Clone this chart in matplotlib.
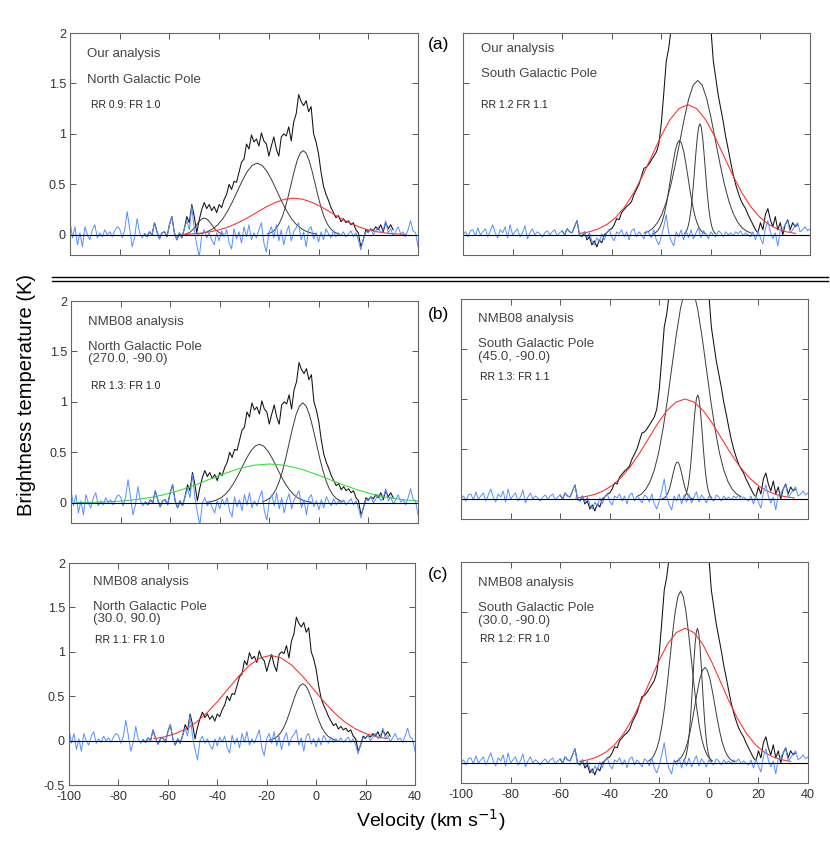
import matplotlib
matplotlib.use('Agg')
import matplotlib.pyplot as plt
from matplotlib.lines import Line2D
from matplotlib.ticker import MultipleLocator, FuncFormatter

plt.rcParams['font.family'] = ['Liberation Sans', 'DejaVu Sans']

# ---------------- observed spectra (1 km/s channels) ----------------
vel_all = list(range(-100, 41))     # channels for the residuals
vel_ngp = list(range(-70, 31))      # channels where the NGP line is drawn
vel_sgp = list(range(-60, 36))      # channels where the SGP line is drawn

ngp_data = [0.01, -0.02, 0.03, 0.00, 0.12, 0.03, -0.04, 0.02, 0.03, -0.02,
            0.10, 0.18, 0.02, -0.05, 0.02, -0.03, 0.06, 0.18, 0.12, 0.30,
            0.18, 0.02, 0.15, 0.25, 0.32, 0.26, 0.30, 0.24, 0.28, 0.22,
            0.30, 0.27, 0.35, 0.40, 0.50, 0.45, 0.53, 0.52, 0.62, 0.72,
            0.75, 0.90, 0.85, 0.99, 0.92, 0.95, 0.88, 1.01, 0.93, 0.90,
            0.78, 0.88, 0.97, 0.85, 0.78, 0.97, 1.00, 0.98, 1.07, 0.93,
            1.12, 1.20, 1.39, 1.32, 1.28, 1.33, 1.22, 1.27, 1.00, 0.92,
            0.80, 0.62, 0.48, 0.40, 0.34, 0.27, 0.22, 0.17, 0.19, 0.13,
            0.16, 0.12, 0.14, 0.10, 0.12, 0.05, 0.02, -0.12, -0.05, 0.05,
            0.03, 0.06, 0.04, 0.08, 0.05, 0.10, 0.03, 0.12, 0.06, 0.10,
            0.05]

ngp_resid = [0.13, -0.03, 0.08, -0.10, 0.02, -0.12, 0.08, 0.00, -0.05, 0.05,
             0.10, -0.03, 0.02, -0.02, 0.05, 0.00, 0.03, -0.02, 0.04, 0.08,
             0.06, -0.03, 0.05, 0.23, 0.06, -0.12, -0.02, 0.16, 0.02, -0.03,
             0.01, -0.02, 0.03, 0.00, 0.12, 0.03, -0.04, 0.02, 0.03, -0.02,
             0.10, 0.18, 0.02, -0.05, 0.02, -0.03, 0.06, 0.14, 0.05, 0.28,
             0.05, -0.10, -0.22, 0.00, 0.05, -0.03, 0.02, -0.05, -0.10, 0.02,
             -0.06, 0.04, -0.02, 0.05, -0.08, -0.14, 0.06, -0.04, 0.03, -0.08,
             0.08, -0.02, 0.10, -0.05, 0.02, -0.03, 0.05, 0.12, -0.08, -0.17,
             0.02, 0.08, -0.03, 0.10, -0.06, 0.05, -0.10, 0.02, 0.09, -0.06,
             0.03, 0.07, 0.12, -0.05, 0.03, -0.12, 0.05, 0.08, -0.04, 0.02,
             -0.07, 0.03, -0.05, 0.06, 0.01, -0.03, 0.04, -0.02, 0.02, -0.01,
             0.03, -0.02, 0.01, 0.04, -0.02, 0.02, -0.05, -0.15, -0.04, 0.03,
             0.02, 0.06, 0.00, 0.04, 0.08, 0.02, 0.05, 0.14, 0.02, 0.06,
             -0.01, 0.03, 0.08, 0.01, 0.03, -0.02, 0.05, 0.14, 0.04, 0.02,
             -0.12]

sgp_data = [0.04, 0.00, 0.06, 0.03, 0.02, 0.08, 0.14, 0.00, -0.02, 0.03,
            -0.05, -0.02, -0.10, -0.06, -0.12, -0.05, -0.08, 0.00, 0.02, 0.05,
            0.06, 0.10, 0.16, 0.15, 0.22, 0.25, 0.28, 0.30, 0.33, 0.40,
            0.45, 0.50, 0.58, 0.66, 0.67, 0.70, 0.74, 0.78, 0.82, 0.90,
            1.10, 1.40, 1.72, 1.85, 2.05, 2.60, 2.90, 3.10, 3.30, 3.40,
            3.50, 3.60, 3.70, 3.80, 3.85, 3.80, 3.60, 3.20, 2.80, 2.30,
            2.05, 1.72, 1.55, 1.38, 1.25, 1.12, 0.97, 0.85, 0.72, 0.60,
            0.50, 0.42, 0.35, 0.30, 0.26, 0.20, 0.15, 0.10, 0.05, 0.02,
            0.12, 0.05, 0.20, 0.26, 0.15, 0.08, 0.18, 0.05, 0.12, 0.00,
            0.10, 0.15, 0.05, 0.12, 0.08, 0.10]

sgp_resid = [0.00, 0.03, -0.02, 0.04, 0.05, -0.01, 0.07, 0.00, 0.03, 0.06,
             -0.02, 0.04, 0.10, 0.02, -0.03, 0.05, 0.02, 0.08, -0.03, 0.10,
             0.00, 0.03, 0.06, -0.02, 0.02, 0.09, -0.04, 0.02, 0.06, 0.00,
             0.03, 0.01, -0.02, 0.02, 0.04, 0.00, 0.03, 0.05, -0.01, 0.02,
             0.04, 0.00, 0.06, 0.03, 0.02, 0.08, 0.14, 0.00, -0.02, 0.03,
             -0.03, 0.02, -0.06, -0.10, -0.03, -0.07, 0.01, -0.05, 0.02, 0.05,
             -0.02, -0.06, 0.03, 0.01, 0.05, -0.02, 0.03, -0.05, 0.04, 0.06,
             -0.02, 0.03, 0.00, -0.04, 0.04, 0.02, -0.03, 0.05, -0.05, -0.10,
             -0.02, 0.08, 0.20, 0.02, -0.06, -0.11, 0.03, -0.02, 0.05, -0.05,
             0.04, -0.03, 0.05, -0.04, 0.02, 0.07, -0.03, 0.04, 0.01, -0.04,
             0.03, 0.00, -0.02, 0.04, 0.02, -0.02, 0.03, 0.00, 0.02, -0.01,
             0.03, 0.01, 0.04, -0.01, 0.02, 0.00, -0.02, 0.03, -0.05, 0.04,
             -0.03, -0.09, 0.06, 0.14, 0.03, -0.04, 0.02, -0.11, 0.04, 0.06,
             0.10, 0.14, 0.02, 0.05, 0.09, 0.12, 0.03, 0.05, 0.08, 0.04,
             0.06]

# ---------------- fitted components ----------------
# (a) NGP, our analysis
a_ngp_c1_v = [-53.5, -52.75, -52.0, -51.25, -50.5, -49.75, -49.0, -48.25, -47.5, -46.75, -46.0,
              -45.25, -44.5, -43.75, -43.0, -42.25, -41.5, -40.75, -40.0, -39.25, -38.5]
a_ngp_c1_t = [0.007, 0.013, 0.022, 0.036, 0.054, 0.076, 0.100, 0.125, 0.146, 0.160, 0.165,
              0.160, 0.146, 0.125, 0.100, 0.076, 0.054, 0.036, 0.022, 0.013, 0.007]
a_ngp_c2_v = [-48.7, -46.7, -44.7, -42.7, -40.7, -38.7, -36.7, -34.7, -32.7, -30.7, -28.7, -26.7, -24.7,
              -22.7, -20.7, -18.7, -16.7, -14.7, -12.7, -10.7, -8.7, -6.7, -4.7, -2.7, -0.7]
a_ngp_c2_t = [0.008, 0.016, 0.031, 0.057, 0.096, 0.153, 0.231, 0.325, 0.431, 0.536, 0.627, 0.688, 0.710,
              0.688, 0.627, 0.536, 0.431, 0.325, 0.231, 0.153, 0.096, 0.057, 0.031, 0.016, 0.008]
a_ngp_c3_v = [-20.6, -19.4, -18.2, -17.0, -15.8, -14.6, -13.4, -12.2, -11.0, -9.8, -8.6, -7.4, -6.2,
              -5.0, -3.8, -2.6, -1.4, -0.2, 1.0, 2.2, 3.4, 4.6, 5.8, 7.0, 8.2]
a_ngp_c3_t = [0.009, 0.019, 0.037, 0.067, 0.113, 0.180, 0.271, 0.382, 0.507, 0.630, 0.737, 0.809, 0.835,
              0.809, 0.737, 0.630, 0.507, 0.382, 0.271, 0.180, 0.113, 0.067, 0.037, 0.019, 0.009]
a_ngp_wide_v = [-55, -51.25, -47.5, -43.75, -40, -36.25, -32.5, -28.75, -25, -21.25, -17.5, -13.75, -10,
                -6.25, -2.5, 1.25, 5, 8.75, 12.5, 16.25, 20, 23.75, 27.5, 31.25, 35]
a_ngp_wide_t = [0.004, 0.008, 0.016, 0.029, 0.049, 0.078, 0.118, 0.166, 0.220, 0.274, 0.320, 0.352, 0.363,
                0.352, 0.320, 0.274, 0.220, 0.166, 0.118, 0.078, 0.049, 0.029, 0.016, 0.008, 0.004]

# (b) NGP, NMB08 (270, -90)
b_ngp_c2_v = [-45, -43.25, -41.5, -39.75, -38, -36.25, -34.5, -32.75, -31, -29.25, -27.5, -25.75, -24,
              -22.25, -20.5, -18.75, -17, -15.25, -13.5, -11.75, -10, -8.25, -6.5, -4.75, -3]
b_ngp_c2_t = [0.006, 0.013, 0.026, 0.046, 0.078, 0.125, 0.188, 0.265, 0.352, 0.438, 0.512, 0.562, 0.580,
              0.562, 0.512, 0.438, 0.352, 0.265, 0.188, 0.125, 0.078, 0.046, 0.026, 0.013, 0.006]
b_ngp_c3_v = [-22.7, -21.35, -20.0, -18.65, -17.3, -15.95, -14.6, -13.25, -11.9, -10.55, -9.2, -7.85, -6.5,
              -5.15, -3.8, -2.45, -1.1, 0.25, 1.6, 2.95, 4.3, 5.65, 7.0, 8.35, 9.7]
b_ngp_c3_t = [0.011, 0.023, 0.044, 0.079, 0.134, 0.214, 0.322, 0.453, 0.601, 0.747, 0.874, 0.959, 0.990,
              0.959, 0.874, 0.747, 0.601, 0.453, 0.322, 0.214, 0.134, 0.079, 0.044, 0.023, 0.011]
b_ngp_wide_v = [-98, -92, -86, -80, -74, -68, -62, -56, -50, -44, -38, -32, -26, -20,
                -14, -8, -2, 4, 10, 16, 22, 28, 34, 40]
b_ngp_wide_t = [0.002, 0.004, 0.009, 0.017, 0.031, 0.052, 0.083, 0.125, 0.176, 0.234, 0.291, 0.340, 0.373, 0.385,
                0.373, 0.340, 0.291, 0.234, 0.176, 0.125, 0.083, 0.052, 0.031, 0.017]

# (c) NGP, NMB08 (30, 90)
c_ngp_c3_v = [-18.9, -17.78, -16.65, -15.53, -14.4, -13.28, -12.15, -11.03, -9.9, -8.78, -7.65, -6.53, -5.4,
              -4.28, -3.15, -2.03, -0.9, 0.23, 1.35, 2.48, 3.6, 4.73, 5.85, 6.98, 8.1]
c_ngp_c3_t = [0.007, 0.015, 0.028, 0.051, 0.087, 0.138, 0.208, 0.293, 0.388, 0.483, 0.565, 0.620, 0.640,
              0.620, 0.565, 0.483, 0.388, 0.293, 0.208, 0.138, 0.087, 0.051, 0.028, 0.015, 0.007]
c_ngp_wide_v = [-65.7, -61.4, -57.1, -52.8, -48.5, -44.2, -39.9, -35.6, -31.3, -27.0, -22.7, -18.4,
                -14.1, -9.8, -5.5, -1.2, 3.1, 7.4, 11.7, 16.0, 20.3, 24.6, 28.9]
c_ngp_wide_t = [0.022, 0.042, 0.077, 0.130, 0.207, 0.312, 0.440, 0.583, 0.725, 0.848, 0.930, 0.960,
                0.930, 0.848, 0.725, 0.583, 0.440, 0.312, 0.207, 0.130, 0.077, 0.042, 0.022]

# (a) SGP, our analysis
a_sgp_c1_v = [-23.2, -22.33, -21.45, -20.58, -19.7, -18.83, -17.95, -17.08, -16.2, -15.33, -14.45, -13.58, -12.7,
              -11.83, -10.95, -10.08, -9.2, -8.33, -7.45, -6.58, -5.7, -4.83, -3.95, -3.08, -2.2]
a_sgp_c1_t = [0.010, 0.021, 0.041, 0.075, 0.127, 0.202, 0.304, 0.428, 0.568, 0.706, 0.826, 0.906, 0.935,
              0.906, 0.826, 0.706, 0.568, 0.428, 0.304, 0.202, 0.127, 0.075, 0.041, 0.021, 0.010]
a_sgp_c2_v = [-26.9, -25.1, -23.3, -21.5, -19.7, -17.9, -16.1, -14.3, -12.5, -10.7, -8.9, -7.1, -5.3,
              -3.5, -1.7, 0.1, 1.9, 3.7, 5.5, 7.3, 9.1, 10.9, 12.7, 14.5, 16.3]
a_sgp_c2_t = [0.017, 0.035, 0.067, 0.122, 0.207, 0.331, 0.497, 0.701, 0.928, 1.155, 1.351, 1.483, 1.530,
              1.483, 1.351, 1.155, 0.928, 0.701, 0.497, 0.331, 0.207, 0.122, 0.067, 0.035, 0.017]
a_sgp_c3_v = [-10.7, -10.18, -9.65, -9.13, -8.6, -8.08, -7.55, -7.03, -6.5, -5.98, -5.45, -4.93, -4.4,
              -3.88, -3.35, -2.83, -2.3, -1.78, -1.25, -0.73, -0.2, 0.33, 0.85, 1.38, 1.9]
a_sgp_c3_t = [0.012, 0.025, 0.048, 0.088, 0.149, 0.238, 0.357, 0.504, 0.668, 0.830, 0.971, 1.066, 1.100,
              1.066, 0.971, 0.830, 0.668, 0.504, 0.357, 0.238, 0.149, 0.088, 0.048, 0.025, 0.012]
a_sgp_wide_v = [-52.8, -49.18, -45.55, -41.93, -38.3, -34.68, -31.05, -27.43, -23.8, -20.18, -16.55, -12.93, -9.3,
                -5.68, -2.05, 1.58, 5.2, 8.83, 12.45, 16.08, 19.7, 23.33, 26.95, 30.58, 34.2]
a_sgp_wide_t = [0.014, 0.029, 0.057, 0.103, 0.175, 0.279, 0.419, 0.591, 0.783, 0.974, 1.139, 1.250, 1.290,
                1.250, 1.139, 0.974, 0.783, 0.591, 0.419, 0.279, 0.175, 0.103, 0.057, 0.029, 0.014]

# (b) SGP, NMB08 (45, -90)
b_sgp_c1_v = [-29, -27.25, -25.5, -23.75, -22, -20.25, -18.5, -16.75, -15, -13.25, -11.5, -9.75, -8,
              -6.25, -4.5, -2.75, -1, 0.75, 2.5, 4.25, 6, 7.75, 9.5, 11.25, 13]
b_sgp_c1_t = [0.024, 0.049, 0.095, 0.172, 0.290, 0.464, 0.699, 0.985, 1.305, 1.623, 1.898, 2.084, 2.150,
              2.084, 1.898, 1.623, 1.305, 0.985, 0.699, 0.464, 0.290, 0.172, 0.095, 0.049, 0.024]
b_sgp_c2_v = [-18.7, -18.2, -17.7, -17.2, -16.7, -16.2, -15.7, -15.2, -14.7, -14.2, -13.7, -13.2, -12.7,
              -12.2, -11.7, -11.2, -10.7, -10.2, -9.7, -9.2, -8.7, -8.2, -7.7, -7.2, -6.7]
b_sgp_c2_t = [0.004, 0.008, 0.016, 0.030, 0.050, 0.080, 0.120, 0.169, 0.225, 0.279, 0.327, 0.359, 0.370,
              0.359, 0.327, 0.279, 0.225, 0.169, 0.120, 0.080, 0.050, 0.030, 0.016, 0.008, 0.004]
b_sgp_c3_v = [-10.2, -9.73, -9.25, -8.78, -8.3, -7.83, -7.35, -6.88, -6.4, -5.93, -5.45, -4.98, -4.5,
              -4.03, -3.55, -3.08, -2.6, -2.13, -1.65, -1.18, -0.7, -0.23, 0.25, 0.73, 1.2]
b_sgp_c3_t = [0.012, 0.024, 0.046, 0.083, 0.140, 0.225, 0.338, 0.476, 0.631, 0.785, 0.918, 1.008, 1.040,
              1.008, 0.918, 0.785, 0.631, 0.476, 0.338, 0.225, 0.140, 0.083, 0.046, 0.024, 0.012]
b_sgp_wide_v = [-53.7, -50.03, -46.35, -42.68, -39.0, -35.33, -31.65, -27.98, -24.3, -20.63, -16.95, -13.28, -9.6,
                -5.93, -2.25, 1.43, 5.1, 8.78, 12.45, 16.13, 19.8, 23.48, 27.15, 30.83, 34.5]
b_sgp_wide_t = [0.011, 0.023, 0.044, 0.080, 0.135, 0.216, 0.325, 0.458, 0.607, 0.755, 0.883, 0.969, 1.000,
                0.969, 0.883, 0.755, 0.607, 0.458, 0.325, 0.216, 0.135, 0.080, 0.044, 0.023, 0.011]

# (c) SGP, NMB08 (30, -90)
c_sgp_c1_v = [-24.3, -23.23, -22.15, -21.08, -20.0, -18.93, -17.85, -16.78, -15.7, -14.63, -13.55, -12.48, -11.4,
              -10.33, -9.25, -8.18, -7.1, -6.03, -4.95, -3.88, -2.8, -1.73, -0.65, 0.43, 1.5]
c_sgp_c1_t = [0.019, 0.039, 0.075, 0.137, 0.231, 0.370, 0.555, 0.783, 1.038, 1.291, 1.510, 1.657, 1.710,
              1.657, 1.510, 1.291, 1.038, 0.783, 0.555, 0.370, 0.231, 0.137, 0.075, 0.039, 0.019]
c_sgp_c2_v = [-10.3, -9.83, -9.35, -8.88, -8.4, -7.93, -7.45, -6.98, -6.5, -6.03, -5.55, -5.08, -4.6,
              -4.13, -3.65, -3.18, -2.7, -2.23, -1.75, -1.28, -0.8, -0.33, 0.15, 0.63, 1.1]
c_sgp_c2_t = [0.015, 0.031, 0.059, 0.107, 0.181, 0.290, 0.435, 0.613, 0.813, 1.011, 1.183, 1.298, 1.340,
              1.298, 1.183, 1.011, 0.813, 0.613, 0.435, 0.290, 0.181, 0.107, 0.059, 0.031, 0.015]
c_sgp_c3_v = [-13.6, -12.6, -11.6, -10.6, -9.6, -8.6, -7.6, -6.6, -5.6, -4.6, -3.6, -2.6, -1.6,
              -0.6, 0.4, 1.4, 2.4, 3.4, 4.4, 5.4, 6.4, 7.4, 8.4, 9.4, 10.4]
c_sgp_c3_t = [0.011, 0.022, 0.042, 0.076, 0.129, 0.205, 0.309, 0.435, 0.576, 0.717, 0.839, 0.921, 0.950,
              0.921, 0.839, 0.717, 0.576, 0.435, 0.309, 0.205, 0.129, 0.076, 0.042, 0.022, 0.011]
c_sgp_wide_v = [-52.2, -48.65, -45.1, -41.55, -38.0, -34.45, -30.9, -27.35, -23.8, -20.25, -16.7, -13.15, -9.6,
                -6.05, -2.5, 1.05, 4.6, 8.15, 11.7, 15.25, 18.8, 22.35, 25.9, 29.45, 33.0]
c_sgp_wide_t = [0.015, 0.031, 0.059, 0.107, 0.181, 0.290, 0.435, 0.613, 0.813, 1.011, 1.183, 1.298, 1.340,
                1.298, 1.183, 1.011, 0.813, 0.613, 0.435, 0.290, 0.181, 0.107, 0.059, 0.031, 0.015]

# panel captions
captions = {
    'a_ngp': [('Our analysis', 0.049, 0.905), ('North Galactic Pole', 0.049, 0.788)],
    'a_sgp': [('Our analysis', 0.051, 0.928), ('South Galactic Pole', 0.051, 0.815)],
    'b_ngp': [('NMB08 analysis', 0.048, 0.907), ('North Galactic Pole', 0.048, 0.794), ('(270.0, -90.0)', 0.048, 0.739)],
    'b_sgp': [('NMB08 analysis', 0.048, 0.908), ('South Galactic Pole', 0.048, 0.795), ('(45.0, -90.0)', 0.048, 0.736)],
    'c_ngp': [('NMB08 analysis', 0.068, 0.916), ('North Galactic Pole', 0.068, 0.803), ('(30.0, 90.0)', 0.068, 0.748)],
    'c_sgp': [('NMB08 analysis', 0.048, 0.906), ('South Galactic Pole', 0.048, 0.792), ('(30.0, -90.0)', 0.048, 0.734)],
}
ratios = {
    'a_ngp': ('RR 0.9: FR 1.0', 0.060, 0.676),
    'a_sgp': ('RR 1.2 FR 1.1', 0.051, 0.676),
    'b_ngp': ('RR 1.3: FR 1.0', 0.058, 0.617),
    'b_sgp': ('RR 1.3: FR 1.1', 0.055, 0.645),
    'c_ngp': ('RR 1.1: FR 1.0', 0.075, 0.653),
    'c_sgp': ('RR 1.2: FR 1.0', 0.055, 0.652),
}

DATA_C = '#111111'
COMP_C = '#3a3a3a'
RED_C = '#ff2a2a'
GREEN_C = '#2ee02e'
BLUE_C = '#5590ff'

W, H = 830, 841
fig = plt.figure(figsize=(W / 100, H / 100), dpi=100)


def make_axes(x0, y0, x1, y1):
    # pixel box -> figure fraction
    return fig.add_axes([x0 / W, 1 - y1 / H, (x1 - x0) / W, (y1 - y0) / H])


def style(ax, ymin, xlabels, ylabels):
    ax.set_xlim(-100, 40)
    ax.set_ylim(ymin, 2)
    ax.xaxis.set_major_locator(MultipleLocator(20))
    ax.yaxis.set_major_locator(MultipleLocator(0.5))
    fmt = FuncFormatter(lambda v, p: '%g' % (round(v, 2) + 0.0))
    ax.xaxis.set_major_formatter(fmt)
    ax.yaxis.set_major_formatter(fmt)
    ax.tick_params(direction='in', top=True, right=True, length=4, width=0.7,
                   color='#555555', labelsize=9, labelcolor='#333333',
                   labelbottom=xlabels, labelleft=ylabels)
    ax.tick_params(axis='x', pad=4.5)
    ax.tick_params(axis='y', pad=3)
    for s in ax.spines.values():
        s.set_color('#666666')
        s.set_linewidth(0.8)


def draw(ax, key, vdata, tdata, resid, comps, wide_v, wide_t, wide_c):
    ax.plot(vdata, tdata, color=DATA_C, lw=0.75)
    for cv, ct in comps:
        ax.plot(cv, ct, color=COMP_C, lw=0.7)
    ax.plot(wide_v, wide_t, color=wide_c, lw=0.75)
    ax.plot(vel_all, resid, color=BLUE_C, lw=0.7)
    ax.axhline(0, color='black', lw=0.8)
    for s, x, y in captions[key]:
        ax.text(x, y, s, transform=ax.transAxes, va='center', ha='left',
                fontsize=9.5, color='#444444')
    s, x, y = ratios[key]
    ax.text(x, y, s, transform=ax.transAxes, va='center', ha='left',
            fontsize=7.5, color='#222222')


# ---- row (a) ----
ax1 = make_axes(70, 33, 418, 255)
draw(ax1, 'a_ngp', vel_ngp, ngp_data, ngp_resid,
     [(a_ngp_c1_v, a_ngp_c1_t), (a_ngp_c2_v, a_ngp_c2_t), (a_ngp_c3_v, a_ngp_c3_t)],
     a_ngp_wide_v, a_ngp_wide_t, RED_C)
style(ax1, -0.2, False, True)

ax2 = make_axes(463, 33, 810, 255)
draw(ax2, 'a_sgp', vel_sgp, sgp_data, sgp_resid,
     [(a_sgp_c1_v, a_sgp_c1_t), (a_sgp_c2_v, a_sgp_c2_t), (a_sgp_c3_v, a_sgp_c3_t)],
     a_sgp_wide_v, a_sgp_wide_t, RED_C)
style(ax2, -0.2, False, False)

# ---- row (b) ----
ax3 = make_axes(71, 301, 418, 523)
draw(ax3, 'b_ngp', vel_ngp, ngp_data, ngp_resid,
     [(b_ngp_c2_v, b_ngp_c2_t), (b_ngp_c3_v, b_ngp_c3_t)],
     b_ngp_wide_v, b_ngp_wide_t, GREEN_C)
style(ax3, -0.2, False, True)

ax4 = make_axes(461, 299, 808, 519)
draw(ax4, 'b_sgp', vel_sgp, sgp_data, sgp_resid,
     [(b_sgp_c1_v, b_sgp_c1_t), (b_sgp_c2_v, b_sgp_c2_t), (b_sgp_c3_v, b_sgp_c3_t)],
     b_sgp_wide_v, b_sgp_wide_t, RED_C)
style(ax4, -0.2, False, False)

# ---- row (c) ----
ax5 = make_axes(69, 563, 415, 785)
draw(ax5, 'c_ngp', vel_ngp, ngp_data, ngp_resid,
     [(c_ngp_c3_v, c_ngp_c3_t)],
     c_ngp_wide_v, c_ngp_wide_t, RED_C)
style(ax5, -0.5, True, True)

ax6 = make_axes(461, 562, 808, 783)
draw(ax6, 'c_sgp', vel_sgp, sgp_data, sgp_resid,
     [(c_sgp_c1_v, c_sgp_c1_t), (c_sgp_c2_v, c_sgp_c2_t), (c_sgp_c3_v, c_sgp_c3_t)],
     c_sgp_wide_v, c_sgp_wide_t, RED_C)
style(ax6, -0.2, True, False)

# separator between our analysis and NMB08 rows
for yy in (276.7, 280.7):
    fig.add_artist(Line2D([52 / W, 828 / W], [1 - yy / H, 1 - yy / H],
                          transform=fig.transFigure, color='black', lw=1.0))

fig.text(438.5 / W, 1 - 45 / H, '(a)', ha='center', va='center', fontsize=12.5)
fig.text(438.5 / W, 1 - 314 / H, '(b)', ha='center', va='center', fontsize=12.5)
fig.text(438.5 / W, 1 - 575 / H, '(c)', ha='center', va='center', fontsize=12.5)

fig.text(26 / W, 1 - 395 / H, 'Brightness temperature (K)', rotation=90,
         ha='center', va='center', fontsize=14.5)
fig.text(431 / W, 1 - 820 / H, 'Velocity (km s$^{-1}$)', ha='center', va='center',
         fontsize=14)

fig.savefig('out.png', dpi=100)
